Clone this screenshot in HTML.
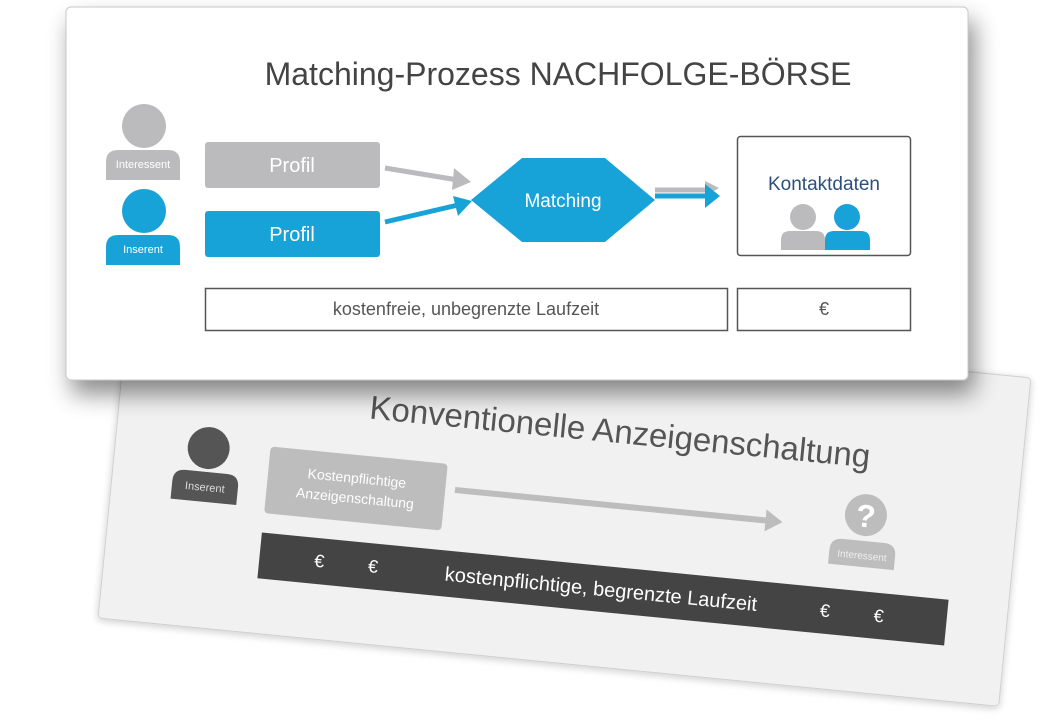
<!DOCTYPE html>
<html><head><meta charset="utf-8"><style>
html,body{margin:0;padding:0;background:#fff;}
svg{display:block;font-family:"Liberation Sans",sans-serif;}
</style></head><body>
<svg width="1055" height="723" viewBox="0 0 1055 723" xmlns="http://www.w3.org/2000/svg">
<defs>
<filter id="sh" x="-10%" y="-10%" width="125%" height="135%"><feGaussianBlur in="SourceAlpha" stdDeviation="12"/><feOffset dx="6" dy="14"/><feComponentTransfer><feFuncA type="linear" slope="0.45"/></feComponentTransfer><feMerge><feMergeNode/><feMergeNode in="SourceGraphic"/></feMerge></filter>
<filter id="sh2" x="-10%" y="-10%" width="120%" height="130%"><feGaussianBlur in="SourceAlpha" stdDeviation="4"/><feOffset dx="0" dy="2"/><feComponentTransfer><feFuncA type="linear" slope="0.2"/></feComponentTransfer><feMerge><feMergeNode/><feMergeNode in="SourceGraphic"/></feMerge></filter>
</defs>

<!-- back card -->
<g transform="rotate(5.6 98 618)" filter="url(#sh2)">
<rect x="98" y="288" width="905" height="330" rx="4" fill="#f1f1f1" stroke="#cfcfcf"/>
</g>
<g transform="translate(620 432) rotate(5.6)">
<text x="0" y="11" font-size="33" fill="#555" text-anchor="middle">Konventionelle Anzeigenschaltung</text>
</g>
<g transform="translate(207 465) rotate(5.6)">
<circle cx="0" cy="-17" r="21" fill="#555"/>
<path d="M-33 37 v-18 q0 -12 12 -12 h42 q12 0 12 12 v18 z" fill="#555"/>
<text x="0" y="26" font-size="11" fill="#ddd" text-anchor="middle">Inserent</text>
</g>
<g transform="translate(356 488) rotate(5.6)">
<rect x="-89" y="-33" width="178" height="67" rx="4" fill="#bdbdbd"/>
<text x="0" y="-5" font-size="14" fill="#fff" text-anchor="middle">Kostenpflichtige</text>
<text x="0" y="15" font-size="14" fill="#fff" text-anchor="middle">Anzeigenschaltung</text>
</g>
<g transform="translate(455 490) rotate(5.6)">
<line x1="0" y1="0" x2="315" y2="0" stroke="#bdbdbd" stroke-width="6"/>
<polygon points="312,-11 329,0 312,11" fill="#bdbdbd"/>
</g>
<g transform="translate(864 535) rotate(5.6)">
<circle cx="0" cy="-20" r="21" fill="#bdbdbd"/>
<text x="0" y="-8" font-size="32" font-weight="bold" fill="#fff" text-anchor="middle">?</text>
<path d="M-33 32 v-14 q0 -12 12 -12 h42 q12 0 12 12 v14 z" fill="#bdbdbd"/>
<text x="0" y="24" font-size="10" fill="#eee" text-anchor="middle">Interessent</text>
</g>
<g transform="translate(603 589) rotate(5.6)">
<rect x="-345" y="-23" width="690" height="46" fill="#444"/>
<text x="-290" y="6" font-size="18" fill="#fff">€</text>
<text x="-236" y="6" font-size="18" fill="#fff">€</text>
<text x="-2" y="7" font-size="20" fill="#fff" text-anchor="middle">kostenpflichtige, begrenzte Laufzeit</text>
<text x="218" y="6" font-size="18" fill="#fff">€</text>
<text x="272" y="6" font-size="18" fill="#fff">€</text>
</g>

<!-- front card -->
<rect x="66" y="7" width="902" height="373" rx="5" fill="#fff" stroke="#c8c8c8" filter="url(#sh)"/>
<text x="558" y="85" font-size="32" fill="#444" text-anchor="middle">Matching-Prozess NACHFOLGE-BÖRSE</text>

<circle cx="144" cy="126" r="22" fill="#bbbbbd"/>
<path d="M106 180 v-18 q0 -12 12 -12 h50 q12 0 12 12 v18 z" fill="#bbbbbd"/>
<text x="143" y="168" font-size="11" fill="#fff" text-anchor="middle">Interessent</text>
<circle cx="144" cy="211" r="22" fill="#18a3d8"/>
<path d="M106 265 v-18 q0 -12 12 -12 h50 q12 0 12 12 v18 z" fill="#18a3d8"/>
<text x="143" y="253" font-size="11" fill="#fff" text-anchor="middle">Inserent</text>

<rect x="205" y="142" width="175" height="46" rx="3" fill="#bbbbbd"/>
<text x="292" y="172" font-size="20" fill="#fff" text-anchor="middle">Profil</text>
<rect x="205" y="211" width="175" height="46" rx="3" fill="#18a3d8"/>
<text x="292" y="241" font-size="20" fill="#fff" text-anchor="middle">Profil</text>

<line x1="385" y1="168" x2="458" y2="180" stroke="#bbbbbd" stroke-width="5"/>
<polygon points="454,168 471,182 452,190" fill="#bbbbbd"/>
<line x1="385" y1="222" x2="458" y2="205" stroke="#18a3d8" stroke-width="5"/>
<polygon points="453,196 472,201 458,216" fill="#18a3d8"/>

<polygon points="471,200 522,158 605,158 655,200 605,242 522,242" fill="#18a3d8"/>
<text x="563" y="207" font-size="19" fill="#fff" text-anchor="middle">Matching</text>

<line x1="655" y1="190" x2="710" y2="190" stroke="#bbbbbd" stroke-width="5"/>
<polygon points="705,181 719,188 705,196" fill="#bbbbbd"/>
<line x1="655" y1="196" x2="710" y2="196" stroke="#18a3d8" stroke-width="5"/>
<polygon points="705,184 720,196 705,208" fill="#18a3d8"/>

<rect x="737.5" y="136.5" width="173" height="119" rx="3" fill="#fff" stroke="#555" stroke-width="1.5"/>
<text x="824" y="190" font-size="19" fill="#2c4f7c" text-anchor="middle">Kontaktdaten</text>
<circle cx="803" cy="217" r="13" fill="#bbbbbd"/>
<path d="M781 250 v-10 q0 -9 9 -9 h26 q9 0 9 9 v10 z" fill="#bbbbbd"/>
<circle cx="847" cy="217" r="13" fill="#18a3d8"/>
<path d="M825 250 v-10 q0 -9 9 -9 h27 q9 0 9 9 v10 z" fill="#18a3d8"/>

<rect x="205.5" y="288.5" width="522" height="42" fill="#fff" stroke="#555" stroke-width="1.5"/>
<text x="466" y="315" font-size="18" fill="#555" text-anchor="middle">kostenfreie, unbegrenzte Laufzeit</text>
<rect x="737.5" y="288.5" width="173" height="42" fill="#fff" stroke="#555" stroke-width="1.5"/>
<text x="824" y="315" font-size="18" fill="#555" text-anchor="middle">€</text>
</svg>
</body></html>
